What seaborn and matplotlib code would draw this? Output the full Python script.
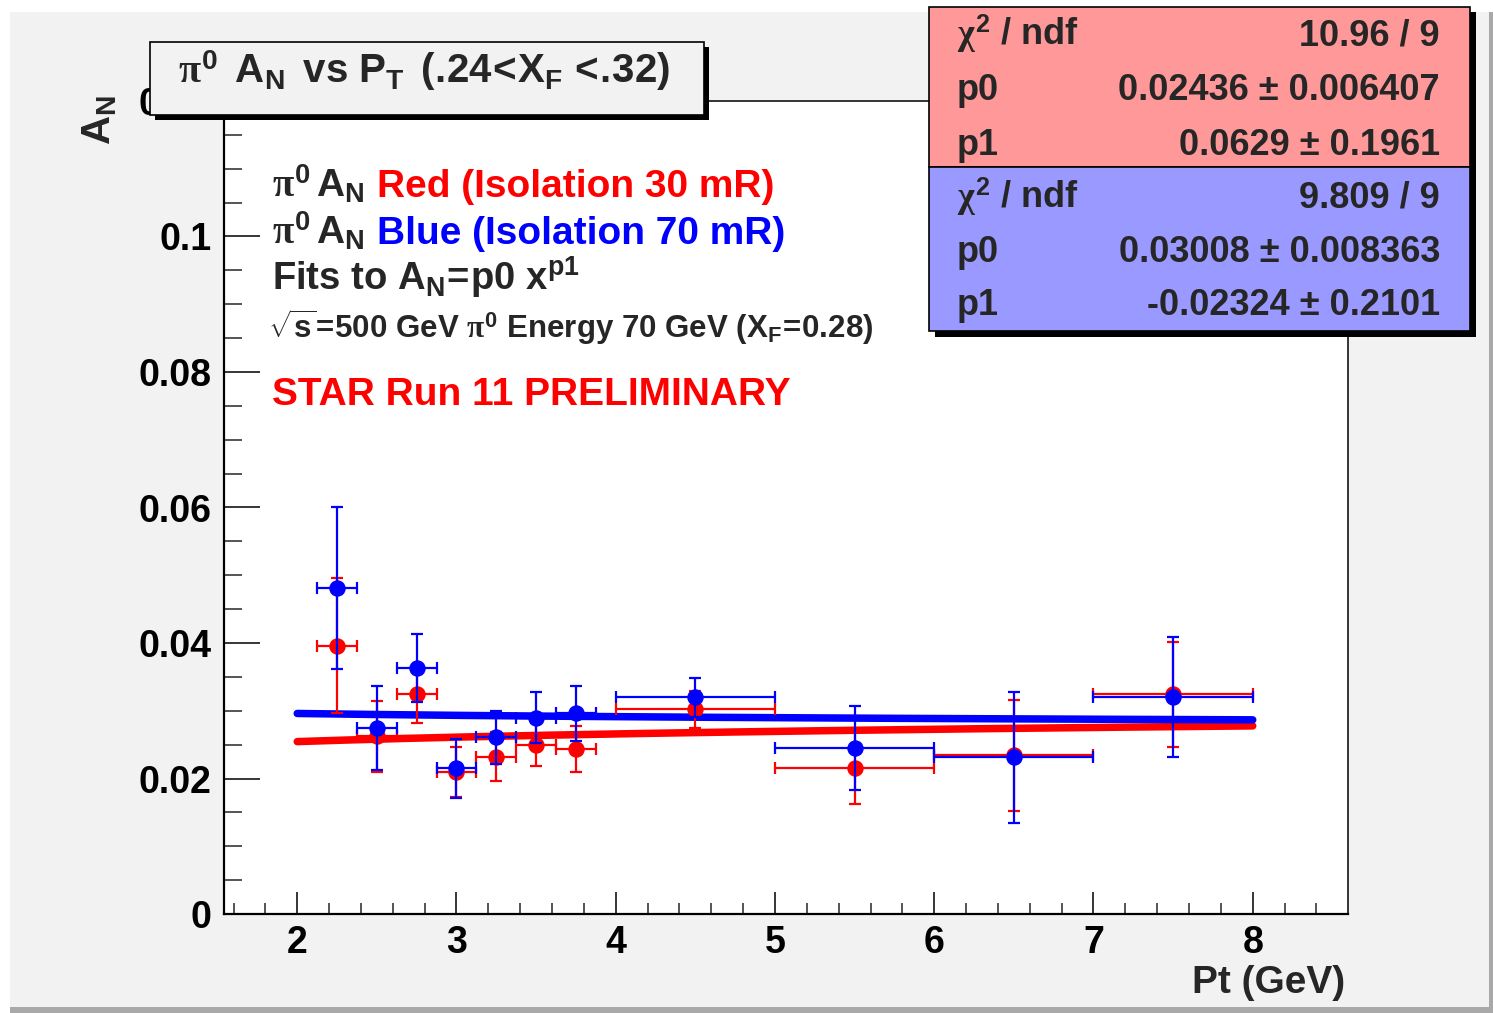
import numpy as np
import pandas as pd
import matplotlib
matplotlib.use("Agg")
import matplotlib.pyplot as plt
import seaborn as sns
from matplotlib.patches import Rectangle
from matplotlib.ticker import MultipleLocator

# ---------------- data ----------------
pt = [2.25, 2.5, 2.75, 3.0, 3.25, 3.5, 3.75, 4.5, 5.5, 6.5, 7.5]
pt_err = [0.125, 0.125, 0.125, 0.125, 0.125, 0.125, 0.125, 0.5, 0.5, 0.5, 0.5]
red_an = [0.0396, 0.0262, 0.0324, 0.0209, 0.0232, 0.0250, 0.0244, 0.0302, 0.0216, 0.0234, 0.0324]
red_err = [0.0100, 0.0052, 0.0042, 0.0037, 0.0036, 0.0032, 0.0034, 0.0027, 0.0053, 0.0082, 0.0078]
blue_an = [0.0481, 0.0274, 0.0363, 0.0215, 0.0261, 0.0290, 0.0296, 0.0320, 0.0245, 0.0231, 0.0320]
blue_err = [0.0120, 0.0062, 0.0050, 0.0044, 0.0039, 0.0037, 0.0040, 0.0029, 0.0062, 0.0097, 0.0089]

fit_red = [0.02436, 0.0629]      # p0, p1
fit_blue = [0.03008, -0.02324]   # p0, p1
fit_range = [2.0, 8.0]

x_ticks = [2, 3, 4, 5, 6, 7, 8]
x_tick_labels = ["2", "3", "4", "5", "6", "7", "8"]
y_ticks = [0, 0.02, 0.04, 0.06, 0.08, 0.10, 0.12]
y_tick_labels = ["0", "0.02", "0.04", "0.06", "0.08", "0.1", "0.12"]

stat_labels = [r"$\chi^{2}\mathrm{\ /\ ndf}$", "p0", "p1"]
stat_red_values = ["10.96 / 9", "0.02436 \u00b1 0.006407", "0.0629 \u00b1 0.1961"]
stat_blue_values = ["9.809 / 9", "0.03008 \u00b1 0.008363", "-0.02324 \u00b1 0.2101"]

title_text = (r"$\pi^{0}\,\ \mathrm{A_{N}}\,\ \mathrm{vs\ P_{T}}\,\ \mathrm{(.}\!\mathrm{24}\!\mathrm{<}\!"
              r"\mathrm{X_{F}}\,\mathrm{<}\!\mathrm{.}\!\mathrm{32)}$")
leg_prefix = r"$\pi^{0}\,\mathrm{A_{N}}$"
leg_red = "Red (Isolation 30 mR)"
leg_blue = "Blue (Isolation 70 mR)"
fit_text = r"$\mathrm{Fits\ to\ A_{N}}\!\mathrm{=}\!\mathrm{p0\ x^{p1}}$"
energy_text = (r"$\sqrt{\mathrm{s}}\!\mathrm{=}\!\mathrm{500\ GeV}\ \pi^{0}\ "
               r"\mathrm{Energy\ 70\ GeV\ (X_{F}}\!\mathrm{=}\!\mathrm{0.28)}$")
prelim_text = "STAR Run 11 PRELIMINARY"
x_label = "Pt (GeV)"
y_label = r"$\mathrm{A_{N}}$"

# ---------------- style ----------------
sns.set_style("white")
plt.rcParams['font.family'] = ['Liberation Sans', 'DejaVu Sans']
plt.rcParams['font.weight'] = 'bold'
plt.rcParams['mathtext.fontset'] = 'custom'
plt.rcParams['mathtext.rm'] = 'Liberation Sans:bold'
plt.rcParams['mathtext.bf'] = 'Liberation Sans:bold'
plt.rcParams['mathtext.sf'] = 'Liberation Sans:bold'
plt.rcParams['mathtext.it'] = 'Liberation Serif'

W, H = 1493, 1013
DPI = 100
fig = plt.figure(figsize=(W / DPI, H / DPI), dpi=DPI)
fig.patch.set_facecolor('white')

def fx(x):
    return x / W

def fy(y):
    return 1 - y / H

def rect_px(x0, y0, x1, y1, **kw):
    r = Rectangle((fx(x0), fy(y1)), fx(x1) - fx(x0), fy(y0) - fy(y1),
                  transform=fig.transFigure, **kw)
    fig.add_artist(r)
    return r

# canvas
rect_px(10, 12, 1493, 1013, facecolor='#a9a9a9', edgecolor='none', zorder=-10)
rect_px(10, 12, 1489, 1007, facecolor='#f2f2f2', edgecolor='none', zorder=-9)

ax = fig.add_axes([fx(224.3), fy(914), fx(1347.8) - fx(224.3), fy(101) - fy(914)])
ax.set_facecolor('white')
ax.set_xlim(1.542, 8.597)
ax.set_ylim(0, 0.12)

# fits
for (p0, p1), col in [(fit_red, '#ff0000'), (fit_blue, '#0000ff')]:
    xf = np.linspace(fit_range[0], fit_range[1], 200)
    df = pd.DataFrame({'x': xf, 'y': p0 * xf ** p1})
    sns.lineplot(data=df, x='x', y='y', color=col, lw=5.4, ax=ax, zorder=3)

# points
for yv, ye, col, z in [(red_an, red_err, '#ff0000', 4), (blue_an, blue_err, '#0000ff', 6)]:
    ax.errorbar(pt, yv, xerr=pt_err, yerr=ye, fmt='none', ecolor=col,
                elinewidth=1.6, capsize=4.5, capthick=1.6, zorder=z)
    sns.scatterplot(x=pt, y=yv, color=col, s=140, edgecolor=col, linewidth=0,
                    ax=ax, zorder=z + 1)

ax.set_xlabel('')
ax.set_ylabel('')

# ticks
ax.set_xticks(x_ticks)
ax.set_xticklabels(x_tick_labels)
ax.set_yticks(y_ticks)
ax.set_yticklabels(y_tick_labels)
ax.xaxis.set_minor_locator(MultipleLocator(0.2))
ax.yaxis.set_minor_locator(MultipleLocator(0.005))
ax.tick_params(axis='y', which='major', direction='in', length=26, width=1.1,
               labelsize=27, pad=9, left=True, right=False, colors='black')
ax.tick_params(axis='y', which='minor', direction='in', length=13, width=1.1,
               left=True, right=False)
ax.tick_params(axis='x', which='major', direction='in', length=16, width=1.1,
               labelsize=27, pad=8, bottom=True, top=False, colors='black')
ax.tick_params(axis='x', which='minor', direction='in', length=8, width=1.1,
               bottom=True, top=False)
for lab in ax.get_xticklabels() + ax.get_yticklabels():
    lab.set_fontweight('bold')

for s in ['left', 'bottom']:
    ax.spines[s].set_color('black')
    ax.spines[s].set_linewidth(1.6)
for s in ['top', 'right']:
    ax.spines[s].set_color('black')
    ax.spines[s].set_linewidth(1.1)

# axis titles
fig.text(fx(1345), fy(993), x_label, ha='right', va='baseline', fontsize=28,
         fontweight='bold')
fig.text(fx(100), fy(95), y_label, ha='center', va='top', rotation=90,
         fontsize=29, fontweight='bold')

# title box
rect_px(155, 47, 709, 120, facecolor='black', edgecolor='none', zorder=5)
rect_px(150, 42, 704, 115, facecolor='#f2f2f2', edgecolor='black', lw=1.2, zorder=6)
fig.text(fx(424), fy(83), title_text, ha='center', va='baseline', fontsize=29,
         zorder=7)

# legend-like text
fig.text(fx(272), fy(197), leg_prefix, ha='left', va='baseline', fontsize=28, zorder=7)
fig.text(fx(377), fy(197), leg_red, ha='left', va='baseline', fontsize=28,
         color='#ff0000', fontweight='bold', zorder=7)
fig.text(fx(272), fy(244), leg_prefix, ha='left', va='baseline', fontsize=28, zorder=7)
fig.text(fx(377), fy(244), leg_blue, ha='left', va='baseline', fontsize=28,
         color='#0000ff', fontweight='bold', zorder=7)
fig.text(fx(272), fy(290), fit_text, ha='left', va='baseline', fontsize=27.5, zorder=7)
fig.text(fx(268), fy(338), energy_text, ha='left', va='baseline', fontsize=22.5, zorder=7)
fig.text(fx(272), fy(405), prelim_text, ha='left', va='baseline', fontsize=28,
         color='#ff0000', fontweight='bold', zorder=7)

# stats boxes
rect_px(935, 12, 1476, 337, facecolor='black', edgecolor='none', zorder=5)
rect_px(929, 7, 1470, 167, facecolor='#ff9999', edgecolor='black', lw=1.2, zorder=6)
rect_px(929, 167, 1470, 331, facecolor='#9999ff', edgecolor='black', lw=1.2, zorder=6)
red_base = [45, 100, 155]
blue_base = [208, 262, 315]
for lab, val, b in zip(stat_labels, stat_red_values, red_base):
    fig.text(fx(957), fy(b), lab, ha='left', va='baseline', fontsize=26, zorder=7)
    fig.text(fx(1440), fy(b), val, ha='right', va='baseline', fontsize=26, zorder=7)
for lab, val, b in zip(stat_labels, stat_blue_values, blue_base):
    fig.text(fx(957), fy(b), lab, ha='left', va='baseline', fontsize=26, zorder=7)
    fig.text(fx(1440), fy(b), val, ha='right', va='baseline', fontsize=26, zorder=7)

fig.savefig('out.png', dpi=DPI, facecolor=fig.get_facecolor())
